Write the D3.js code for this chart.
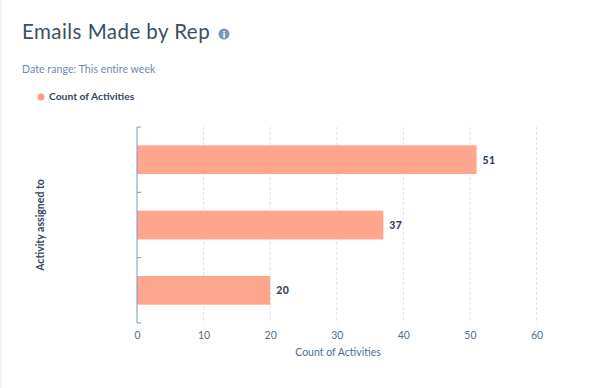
<!DOCTYPE html>
<html>
<head>
<meta charset="utf-8">
<script src="https://cdn.jsdelivr.net/npm/d3@7"></script>
<style>
  html, body { margin: 0; padding: 0; background: #fff; overflow: hidden; }
  text { font-family: Lato, "Open Sans", sans-serif; }
</style>
</head>
<body>
<div id="chart"></div>
<script>
// the rep names are blanked out in the picture, so the band ticks carry no label
var reps = ["Rep 1", "Rep 2", "Rep 3"];
var activities = [51, 37, 20];
var xTicks = [0, 10, 20, 30, 40, 50, 60];

var margin = {top: 127, right: 62.5, bottom: 65, left: 137},
    width = 599 - margin.left - margin.right,
    height = 388 - margin.top - margin.bottom;

var root = d3.select("#chart").append("svg")
    .attr("width", 599)
    .attr("height", 388)
    .style("display", "block");

// pale strip down the left edge of the screenshot
root.append("rect")
    .attr("width", 2)
    .attr("height", 388)
    .attr("fill", "#f3f6f9");

// title block
root.append("text")
    .attr("x", 22)
    .attr("y", 39)
    .attr("font-size", 20.5)
    .attr("letter-spacing", 0.45)
    .attr("fill", "#3b4f63")
    .text("Emails Made by Rep");

var info = root.append("g").attr("transform", "translate(224,34)");
info.append("circle").attr("r", 5.5).attr("fill", "#7c98b6");
info.append("text")
    .attr("y", 3.8)
    .attr("text-anchor", "middle")
    .attr("font-size", 10)
    .attr("font-weight", 900)
    .attr("fill", "#fff")
    .text("i");

root.append("text")
    .attr("x", 22)
    .attr("y", 73)
    .attr("font-size", 10.5)
    .attr("letter-spacing", 0.08)
    .attr("fill", "#6f8aa8")
    .text("Date range:  This entire week");

// legend
root.append("circle")
    .attr("cx", 41)
    .attr("cy", 97)
    .attr("r", 3.5)
    .attr("fill", "#ff9e85");
root.append("text")
    .attr("x", 49)
    .attr("y", 100)
    .attr("font-size", 10.3)
    .attr("font-weight", 700)
    .attr("fill", "#33475b")
    .text("Count of Activities");

var svg = root.append("g")
    .attr("transform", "translate(" + margin.left + "," + margin.top + ")");

var x = d3.scaleLinear().domain([0, 60]).range([0, width]);
var y = d3.scaleBand().domain(reps).range([0, height]).padding(0.56).paddingOuter(0.28);

// gridlines
svg.append("g")
    .attr("class", "grid")
    .selectAll("line")
    .data(xTicks.slice(1))
    .join("line")
    .attr("x1", function(d) { return x(d); })
    .attr("x2", function(d) { return x(d); })
    .attr("y1", 0)
    .attr("y2", height)
    .attr("stroke", "#dfe3eb")
    .attr("stroke-dasharray", "3,2");

// bars
svg.selectAll(".bar")
    .data(activities)
    .join("rect")
    .attr("class", "bar")
    .attr("x", 0)
    .attr("y", function(d, i) { return y(reps[i]); })
    .attr("width", function(d) { return x(d); })
    .attr("height", y.bandwidth())
    .attr("fill", "#ffa68f");

// value labels
svg.selectAll(".value")
    .data(activities)
    .join("text")
    .attr("class", "value")
    .attr("x", function(d) { return x(d) + 6; })
    .attr("y", function(d, i) { return y(reps[i]) + y.bandwidth() / 2 + 4; })
    .attr("font-size", 10.5)
    .attr("font-weight", 900)
    .attr("letter-spacing", 0.4)
    .attr("fill", "#33475b")
    .text(function(d) { return d; });

// y axis
var yAxis = svg.append("g");
var edges = d3.range(0, 4).map(function(i) { return height * i / reps.length; });
yAxis.append("line")
    .attr("y1", 0)
    .attr("y2", height)
    .attr("stroke", "#7c98b6")
    .attr("stroke-width", 1);
yAxis.selectAll(".edge")
    .data(edges)
    .join("line")
    .attr("class", "edge")
    .attr("x1", 0)
    .attr("x2", 4)
    .attr("y1", function(d) { return d; })
    .attr("y2", function(d) { return d; })
    .attr("stroke", "#7c98b6");

// x axis
var xAxis = svg.append("g")
    .attr("transform", "translate(0," + height + ")")
    .call(d3.axisBottom(x).tickValues(xTicks).tickSize(0).tickPadding(9));
xAxis.select(".domain").remove();
xAxis.selectAll("text")
    .attr("font-family", "Lato")
    .attr("font-size", 10.5)
    .attr("fill", "#516f90");

// axis titles
root.append("text")
    .attr("x", 338)
    .attr("y", 356)
    .attr("text-anchor", "middle")
    .attr("font-size", 10.5)
    .attr("fill", "#516f90")
    .text("Count of Activities");

root.append("text")
    .attr("transform", "translate(44,225) rotate(-90)")
    .attr("text-anchor", "middle")
    .attr("font-size", 10.5)
    .attr("font-weight", 700)
    .attr("fill", "#33475b")
    .text("Activity assigned to");
</script>
</body>
</html>
